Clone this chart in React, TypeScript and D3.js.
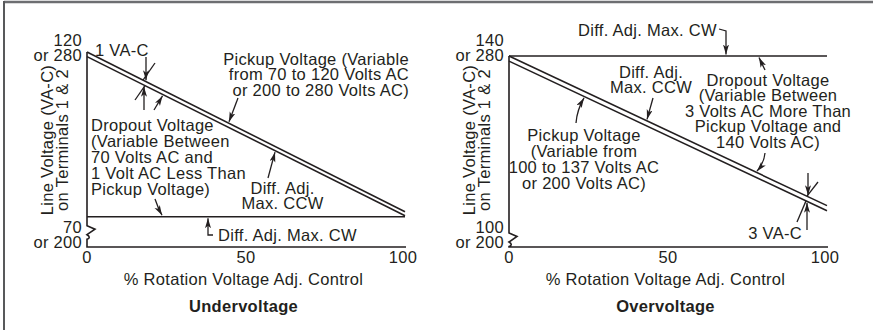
import React from "react";
import * as d3 from "d3";

const FONT = "'Liberation Sans', Arial, Helvetica, sans-serif";
const INK = "#231f20";

// shared x values (% rotation)
const pct = [0, 100];
const xTicks = [0, 50, 100];

// Undervoltage (volts at 0% and 100% rotation)
const underPickup = [120, 71.5];
const underDropout = [118.6, 70.3];
const underFloor = [70, 70];
const underYTop = ["120", "or 280"];
const underYBottom = ["70", "or 200"];

// Overvoltage
const overCeiling = [140, 140];
const overDropout = [140, 105];
const overPickup = [138.8, 103.8];
const overYTop = ["140", "or 280"];
const overYBottom = ["100", "or 200"];

const xTitle = "% Rotation Voltage Adj. Control";
const yTitle = ["Line Voltage (VA-C)", "on Terminals 1 & 2"];

const uPickupLabel = ["Pickup Voltage (Variable", "from 70 to 120 Volts AC", "or 200 to 280 Volts AC)"];
const uDropoutLabel = ["Dropout Voltage", "(Variable Between", "70 Volts AC and", "1 Volt AC Less Than", "Pickup Voltage)"];
const ccwLabel = ["Diff. Adj.", "Max. CCW"];
const cwLabel = "Diff. Adj. Max. CW";
const oDropoutLabel = ["Dropout Voltage", "(Variable Between", "3 Volts AC More Than", "Pickup Voltage and", "140 Volts AC)"];
const oPickupLabel = ["Pickup Voltage", "(Variable from", "100 to 137 Volts AC", "or 200 Volts AC)"];

const FS = 16.5;
const LS = 0.3;
const BL = 5.9;

function T({ x, y, a = "start", w = 400, children }: any) {
  return (
    <text
      x={x}
      y={y + BL}
      textAnchor={a}
      fontWeight={w}
      fontSize={FS}
      letterSpacing={LS}
      fontFamily={FONT}
      fill={INK}
    >
      {children}
    </text>
  );
}

function Lines({ x, y0, dy, a = "start", lines }: any) {
  return (
    <g>
      {lines.map((s: string, i: number) => (
        <T key={i} x={x} y={y0 + dy * i} a={a}>
          {s}
        </T>
      ))}
    </g>
  );
}

function at(vals: number[], p: number) {
  return vals[0] + ((vals[1] - vals[0]) * p) / 100;
}

function Panel({ x, topLabels, botLabels, title, yTop, yBot, children }: any) {
  const x0 = x.range()[0];
  const x1 = x.range()[1];
  const bottom = 247;
  const brk = yBot + 9;
  const axisPath = `M${x0},${yTop} V${brk} L${x0 + 8},${brk + 3.5} L${x0},${brk + 9} C${x0 + 3},${brk + 10.5} ${x0 + 3},${brk + 12.5} ${x0},${brk + 13.5} V${bottom} H${x1 + 1}`;
  const mid = (x0 + x1) / 2 - 2.5;
  return (
    <g>
      <path d={axisPath} fill="none" stroke={INK} strokeWidth={1.6} />
      <T x={x0 - 5} y={40} a="end">{topLabels[0]}</T>
      <T x={x0 - 5} y={55} a="end">{topLabels[1]}</T>
      <T x={x0 - 5} y={227} a="end">{botLabels[0]}</T>
      <T x={x0 - 5} y={242} a="end">{botLabels[1]}</T>
      {xTicks.map((t) => (
        <T key={t} x={x(t) - (t === 100 ? 2 : 0)} y={257.5} a="middle">
          {String(t)}
        </T>
      ))}
      <T x={mid} y={279} a="middle">{xTitle}</T>
      <T x={mid} y={306.5} a="middle" w={700}>{title}</T>
      {yTitle.map((s, i) => (
        <text
          key={i}
          transform={`translate(${x0 - 39.5 + i * 14.5},${140}) rotate(-90)`}
          y={BL}
          textAnchor="middle"
          fontSize={FS}
          letterSpacing={LS}
          fontFamily={FONT}
          fill={INK}
        >
          {s}
        </text>
      ))}
      {children}
    </g>
  );
}

export default function App() {
  const xU = d3.scaleLinear().domain([0, 100]).range([87, 405]);
  const yU = d3.scaleLinear().domain([70, 120]).range([216.7, 52]);
  const xO = d3.scaleLinear().domain([0, 100]).range([509, 827]);
  const yO = d3.scaleLinear().domain([100, 140]).range([227, 56]);

  const lineU = d3.line<number>().x((_, i) => xU(pct[i])).y((d) => yU(d));
  const lineO = d3.line<number>().x((_, i) => xO(pct[i])).y((d) => yO(d));

  const pU = (vals: number[], px: number) => yU(at(vals, xU.invert(px)));
  const pO = (vals: number[], px: number) => yO(at(vals, xO.invert(px)));

  const ln = { fill: "none", stroke: INK, strokeWidth: 1.6 };
  const ar = { fill: "none", stroke: INK, strokeWidth: 1.3, markerEnd: "url(#ah)" };
  const thin = { fill: "none", stroke: INK, strokeWidth: 1.3 };

  return (
    <svg
      width={873}
      height={330}
      viewBox="0 0 873 330"
      style={{ position: "fixed", left: 0, top: 0, background: "#fff" }}
    >
      <defs>
        <marker id="ah" markerUnits="userSpaceOnUse" markerWidth={11} markerHeight={7} refX={10} refY={3} orient="auto">
          <path d="M0,0 L10,3 L0,6 L2.5,3 Z" fill={INK} />
        </marker>
      </defs>
      <rect x={0} y={0} width={873} height={330} fill="#fff" />
      {/* frame */}
      <line x1={4} y1={2} x2={873} y2={2} stroke="#6d6e71" strokeWidth={2.5} />
      <line x1={4} y1={1} x2={4} y2={330} stroke="#58595b" strokeWidth={2} />

      {/* Undervoltage */}
      <Panel x={xU} topLabels={underYTop} botLabels={underYBottom} title="Undervoltage" yTop={yU(120)} yBot={yU(70)}>
        <path d={lineU(underPickup) || ""} {...ln} />
        <path d={lineU(underDropout) || ""} {...ln} />
        <path d={lineU(underFloor) || ""} {...ln} />

        <T x={95} y={50}>1 VA-C</T>
        <path d={`M146,57 V${pU(underPickup, 146) - 1.5}`} {...ar} />
        <path d={`M143,${pU(underPickup, 143)} L155,63`} {...thin} />
        <path d={`M144,110 V${pU(underDropout, 144) + 1.5}`} {...ar} />
        <path d={`M145,${pU(underDropout, 145)} L135,100`} {...thin} />
        <path d={`M154,110 L${162.5},${pU(underDropout, 162.5) + 1.5}`} {...ar} />

        <Lines x={409} y0={59} dy={15.5} a="end" lines={uPickupLabel} />
        <path d={`M238,98 L229,${pU(underPickup, 229) - 1.5}`} {...ar} />

        <Lines x={91} y0={125} dy={16} lines={uDropoutLabel} />
        <path d={`M155,199 Q158,208 162,${yU(70) - 1.5}`} {...ar} />

        <Lines x={282.5} y0={188} dy={15.5} a="middle" lines={ccwLabel} />
        <path d={`M268,178 L275,${pU(underDropout, 275) + 1.5}`} {...ar} />

        <T x={218} y={235.5}>{cwLabel}</T>
        <path d={`M213,235 H208 V${yU(70) + 1.5}`} {...ar} />
      </Panel>

      {/* Overvoltage */}
      <Panel x={xO} topLabels={overYTop} botLabels={overYBottom} title="Overvoltage" yTop={yO(140)} yBot={yO(100) - 3}>
        <path d={lineO(overCeiling) || ""} {...ln} />
        <path d={lineO(overDropout) || ""} {...ln} />
        <path d={lineO(overPickup) || ""} {...ln} />

        <T x={578} y={30}>{cwLabel}</T>
        <path d={`M719,29 L726,31 V${yO(140) - 1.5}`} {...ar} />

        <Lines x={651} y0={72} dy={15.5} a="middle" lines={ccwLabel} />
        <path d={`M653,98 L647,${pO(overDropout, 647) - 1.5}`} {...ar} />

        <Lines x={768} y0={80} dy={15.5} a="middle" lines={oDropoutLabel} />
        <path d={`M765,70 L759,${yO(140) + 1.5}`} {...ar} />
        <path d={`M765,153 Q764,163 757,${pO(overDropout, 757) - 1.5}`} {...ar} />

        <Lines x={584} y0={135} dy={16} a="middle" lines={oPickupLabel} />
        <path d={`M576,123 Q577,110 584,${pO(overPickup, 584) + 1.5}`} {...ar} />

        <path d={`M808,173 V${pO(overDropout, 808) - 1.5}`} {...ar} />
        <path d={`M807,${pO(overDropout, 807)} L818,182`} {...thin} />
        <path d={`M807,230 V${pO(overPickup, 807) + 1.5}`} {...ar} />
        <path d={`M806,${pO(overPickup, 806)} L797,222`} {...thin} />
        <T x={802} y={233} a="end">3 VA-C</T>
      </Panel>
    </svg>
  );
}
